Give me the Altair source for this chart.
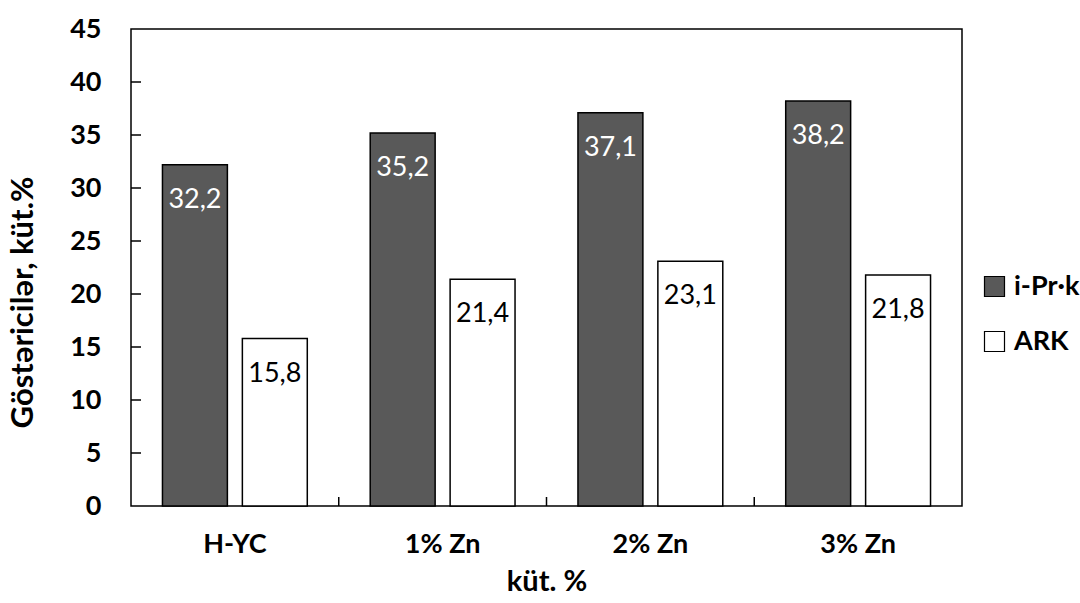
import altair as alt
import pandas as pd

# Sample groups and the two measured indicators (wt.%)
categories = ["H-YC", "1% Zn", "2% Zn", "3% Zn"]
series_names = ["i-Pr·k", "ARK"]
iprk_values = [32.2, 35.2, 37.1, 38.2]
ark_values = [15.8, 21.4, 23.1, 21.8]
y_tick_values = [5, 10, 15, 20, 25, 30, 35, 40]
x_tick_categories = ["1% Zn", "2% Zn", "3% Zn"]

rows = []
for cat, a, b in zip(categories, iprk_values, ark_values):
    rows.append({"cat": cat, "series": series_names[0], "value": a})
    rows.append({"cat": cat, "series": series_names[1], "value": b})
df = pd.DataFrame(rows)
df["label"] = df["value"].map(lambda v: f"{v:.1f}".replace(".", ","))

FONT = "Lato"
W, H = 831, 477
BOLD_SIZE = 27
TITLE_SIZE = 29

x_enc = alt.X(
    "cat:N",
    sort=categories,
    scale=alt.Scale(domain=categories, paddingInner=0, paddingOuter=0),
    axis=alt.Axis(
        title="küt. %",
        labelAngle=0,
        labelFont=FONT,
        labelFontSize=BOLD_SIZE,
        labelFontWeight="bold",
        labelColor="black",
        labelPadding=25,
        ticks=False,
        domain=False,
        titleFont=FONT,
        titleFontSize=TITLE_SIZE,
        titleFontWeight="bold",
        titleColor="black",
        titlePadding=10,
    ),
)
xoff_enc = alt.XOffset(
    "series:N",
    sort=series_names,
    scale=alt.Scale(domain=series_names, paddingInner=0.1875, paddingOuter=0.39375),
)
y_enc = alt.Y(
    "value:Q",
    scale=alt.Scale(domain=[0, 45], nice=False, zero=True),
    axis=alt.Axis(
        title="Göstəricilər, küt.%",
        values=[0, 5, 10, 15, 20, 25, 30, 35, 40, 45],
        labelFont=FONT,
        labelFontSize=BOLD_SIZE,
        labelFontWeight="bold",
        labelColor="black",
        labelPadding=30,
        ticks=False,
        domain=False,
        grid=False,
        titleFont=FONT,
        titleFontSize=31,
        titleFontWeight="bold",
        titleColor="black",
        titleAngle=270,
        titleAlign="center",
        titleBaseline="middle",
        titleX=-108,
        titleY=273,
    ),
)

bars = alt.Chart(df).mark_bar(stroke="black", strokeWidth=1.5).encode(
    x=x_enc,
    xOffset=xoff_enc,
    y=y_enc,
    color=alt.Color(
        "series:N",
        sort=series_names,
        scale=alt.Scale(domain=series_names, range=["#595959", "#ffffff"]),
        legend=alt.Legend(
            title=None,
            orient="none",
            legendX=850,
            legendY=244,
            symbolType="square",
            symbolSize=400,
            symbolStrokeColor="black",
            symbolStrokeWidth=1.2,
            symbolOpacity=1,
            labelFont=FONT,
            labelFontSize=BOLD_SIZE,
            labelFontWeight="bold",
            labelColor="black",
            labelOffset=6,
            rowPadding=27,
        ),
    ),
)

labels = alt.Chart(df).mark_text(
    baseline="middle", dy=35, font=FONT, fontSize=27
).encode(
    x=alt.X("cat:N", sort=categories),
    xOffset=alt.XOffset("series:N", sort=series_names),
    y=alt.Y("value:Q"),
    text="label:N",
    color=alt.condition(
        f"datum.series == '{series_names[0]}'", alt.value("white"), alt.value("black")
    ),
)

# inward-pointing ticks along the value axis
y_ticks = alt.Chart(pd.DataFrame({"v": y_tick_values})).mark_rule(
    color="black", strokeWidth=1.5
).encode(y=alt.Y("v:Q"), x=alt.value(0), x2=alt.value(10))

# inward-pointing ticks between the category groups
x_ticks = alt.Chart(pd.DataFrame({"cat": x_tick_categories})).mark_rule(
    color="black", strokeWidth=1.5
).encode(
    x=alt.X("cat:N", sort=categories, bandPosition=0),
    y=alt.value(H),
    y2=alt.value(H - 9),
)

chart = (
    alt.layer(bars, labels, y_ticks, x_ticks)
    .properties(
        width=W,
        height=H,
        autosize=alt.AutoSizeParams(type="none"),
        padding={"left": 131, "top": 29, "right": 118, "bottom": 97},
        background="white",
    )
    .configure_view(stroke="black", strokeWidth=1.5)
)

chart.save("out.html", embed_options={"renderer": "svg", "actions": False})
